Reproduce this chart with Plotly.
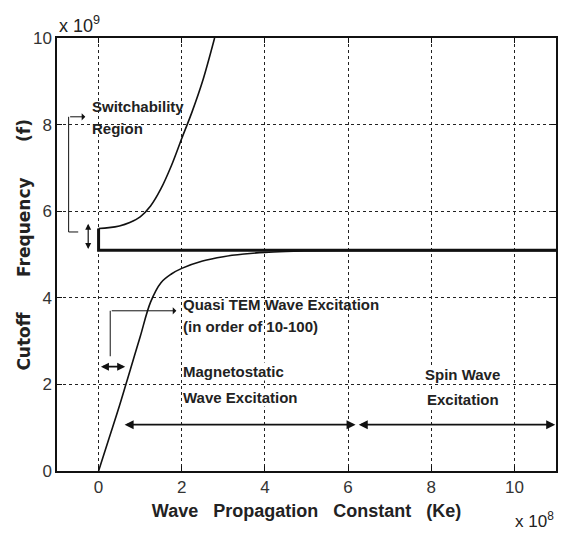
import plotly.graph_objects as go

# Data (x in units of 1e8, y in units of 1e9)
upper_k = [0, 0.25, 0.5, 0.75, 1.0, 1.25, 1.5, 1.75, 2.0, 2.25, 2.5, 2.79]
upper_f = [5.6, 5.62, 5.66, 5.74, 5.87, 6.12, 6.52, 7.05, 7.68, 8.3, 9.0, 10.0]

lower_k = [0, 0.25, 0.5, 0.75, 1.0, 1.25, 1.5, 1.75, 2.0, 2.5, 3.0, 3.5, 4.0, 4.5, 5.0, 6.0, 8.0, 11.0]
lower_f = [0, 0.75, 1.5, 2.3, 3.1, 3.9, 4.35, 4.55, 4.68, 4.85, 4.95, 5.01, 5.05, 5.07, 5.08, 5.09, 5.09, 5.09]

flat_k = [0, 0, 11]
flat_f = [5.6, 5.1, 5.1]

x_ticks = [0, 2, 4, 6, 8, 10]
y_ticks = [0, 2, 4, 6, 8, 10]

# Annotation geometry (data units)
bracket_k = [-0.49, -0.72, -0.72]
bracket_f = [5.52, 5.52, 8.18]
bracket_arrow = (-0.72, 8.18, -0.32, 8.18)
elbow_k = [0.28, 0.28]
elbow_f = [2.65, 3.70]
elbow_arrow = (0.28, 3.70, 1.87, 3.70)
double_arrows = [
    (-0.25, 5.09, -0.25, 5.71, 1.2),
    (0.02, 2.41, 0.64, 2.41, 1.6),
    (0.59, 1.07, 6.18, 1.07, 1.8),
    (6.22, 1.07, 10.98, 1.07, 1.8),
]

labels = [
    ("Switchability", -0.18, 8.41, "left"),
    ("Region", -0.18, 7.92, "left"),
    ("Quasi TEM Wave Excitation", 2.0, 3.84, "left"),
    ("(in order of 10-100)", 2.0, 3.34, "left"),
    ("Magnetostatic", 2.0, 2.3, "left"),
    ("Wave Excitation", 2.0, 1.69, "left"),
    ("Spin Wave", 8.76, 2.23, "center"),
    ("Excitation", 8.76, 1.64, "center"),
]

fig = go.Figure()
fig.add_trace(go.Scatter(x=upper_k, y=upper_f, mode="lines", line=dict(color="#111", width=1.6, shape="spline"), showlegend=False))
fig.add_trace(go.Scatter(x=lower_k, y=lower_f, mode="lines", line=dict(color="#111", width=1.6, shape="spline"), showlegend=False))
fig.add_trace(go.Scatter(x=flat_k, y=flat_f, mode="lines", line=dict(color="#111", width=3), showlegend=False))
fig.add_trace(go.Scatter(x=bracket_k, y=bracket_f, mode="lines", line=dict(color="#111", width=1), showlegend=False))
fig.add_trace(go.Scatter(x=elbow_k, y=elbow_f, mode="lines", line=dict(color="#111", width=1), showlegend=False))

font_ann = dict(family="Liberation Sans, Arial", size=15, color="#222")
for txt, x, y, anc in labels:
    bg = "white" if txt in ("Magnetostatic", "Wave Excitation", "Spin Wave", "Excitation") else None
    fig.add_annotation(x=x, y=y, xref="x", yref="y", text="<b>" + txt + "</b>", showarrow=False,
                       xanchor=anc, yanchor="middle", font=font_ann, bgcolor=bg, borderpad=0)

for (x0, y0, x1, y1) in [bracket_arrow, elbow_arrow]:
    fig.add_annotation(x=x1, y=y1, ax=x0, ay=y0, xref="x", yref="y", axref="x", ayref="y",
                       text="", showarrow=True, arrowhead=1, arrowsize=1.2, arrowwidth=1, arrowcolor="#111")
for (x0, y0, x1, y1, w) in double_arrows:
    fig.add_annotation(x=x1, y=y1, ax=x0, ay=y0, xref="x", yref="y", axref="x", ayref="y",
                       text="", showarrow=True, arrowhead=2, startarrowhead=2, arrowside="end+start",
                       arrowsize=1, startarrowsize=1, arrowwidth=w, arrowcolor="#111")

# exponent labels
fig.add_annotation(x=0.0, y=1.0, xref="paper", yref="paper", text="x 10<sup>9</sup>", showarrow=False,
                   xanchor="left", yanchor="bottom", yshift=0, font=dict(family="Liberation Sans, Arial", size=18, color="#222"))
fig.add_annotation(x=1.0, y=0.0, xref="paper", yref="paper", text="x 10<sup>8</sup>", showarrow=False,
                   xanchor="right", yanchor="top", yshift=-36, font=dict(family="Liberation Sans, Arial", size=17, color="#222"))

# y-axis title as rotated annotation for precise placement
gap = "\u00a0" * 6
fig.add_annotation(x=-0.068, y=0.523, xref="paper", yref="paper",
                   text="<b>Cutoff" + gap + "Frequency" + gap + "(f)</b>", showarrow=False, textangle=-90,
                   xanchor="center", yanchor="middle", font=dict(family="DejaVu Sans", size=17, color="#222"))

axis_common = dict(showgrid=True, gridcolor="#222", griddash="3px,3px", gridwidth=1, zeroline=False,
                   showline=True, linecolor="#111", linewidth=1.5, mirror="ticks", ticks="inside", ticklen=5,
                   tickcolor="#111", tickfont=dict(family="Liberation Sans, Arial", size=17, color="#333"))

fig.update_layout(
    width=567, height=534, margin=dict(l=57, r=9, t=38, b=63),
    paper_bgcolor="white", plot_bgcolor="white",
    xaxis=dict(range=[-1, 11], tickvals=x_ticks, ticktext=[str(v) for v in x_ticks],
               title=dict(text="<b>Wave\u00a0\u00a0\u00a0Propagation\u00a0\u00a0\u00a0Constant\u00a0\u00a0\u00a0(Ke)</b>",
                          font=dict(family="Liberation Sans, Arial", size=18, color="#222"), standoff=8),
               **axis_common),
    yaxis=dict(range=[0, 10], tickvals=y_ticks, ticktext=[str(v) for v in y_ticks],
               **axis_common),
)

fig.write_html("out.html")
